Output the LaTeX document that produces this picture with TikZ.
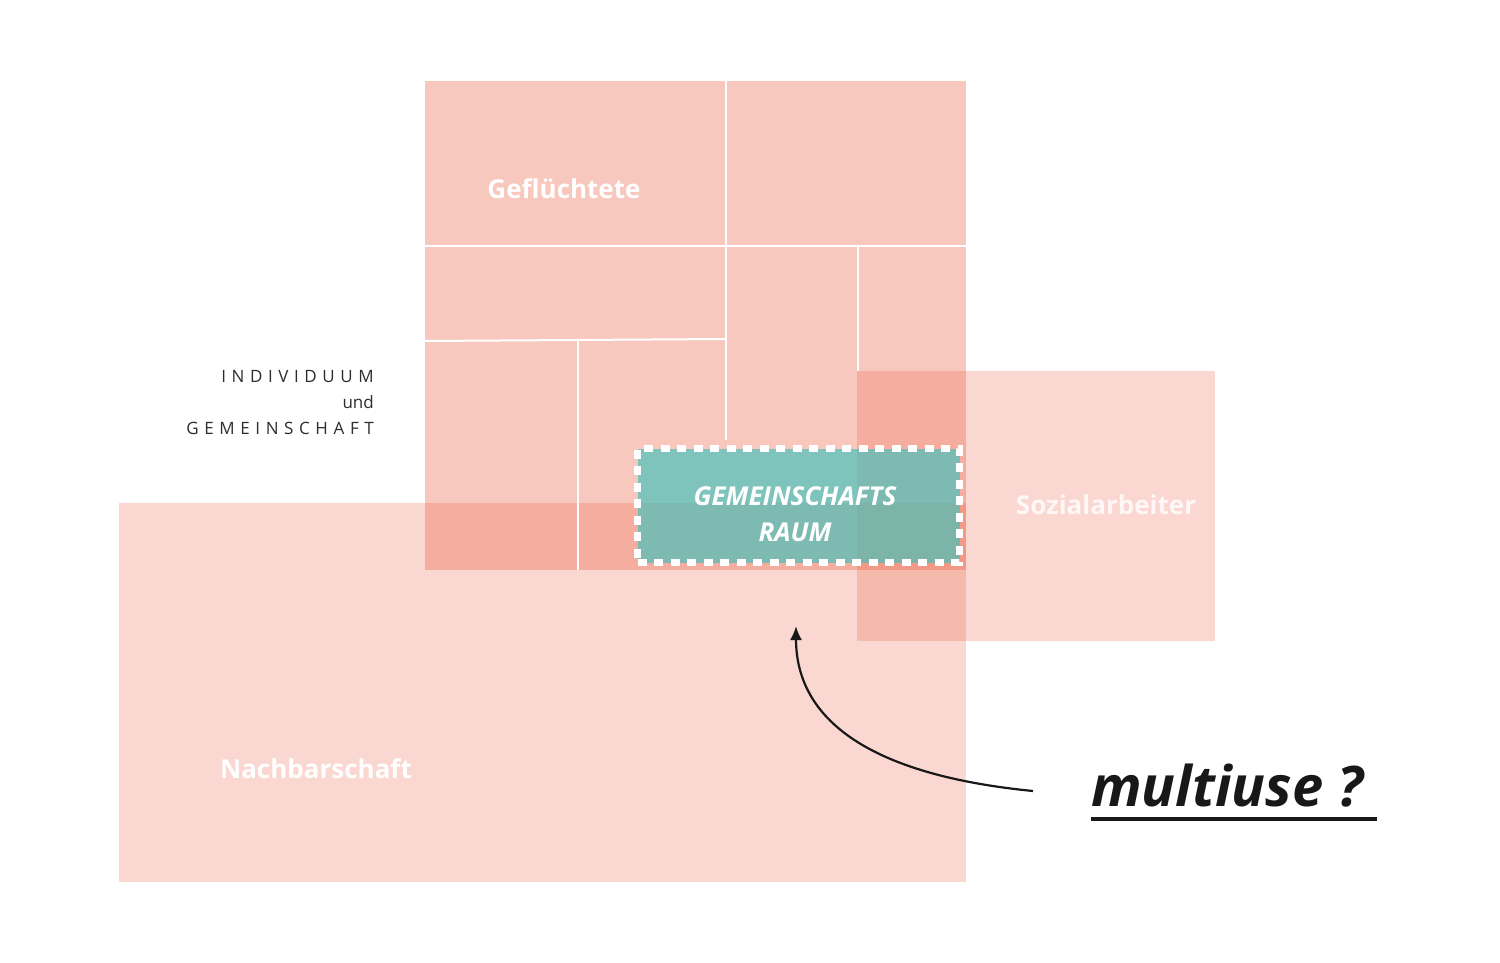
\documentclass[tikz,border=0pt]{standalone}
\usepackage{fontspec}
\setmainfont{Open Sans}
\newfontfamily\spacedfont[LetterSpace=33]{Open Sans}
\usetikzlibrary{arrows.meta}
\definecolor{salmon}{RGB}{234,87,57}
\definecolor{tealc}{RGB}{62,195,190}
\definecolor{txtgray}{RGB}{45,45,45}
\definecolor{inkc}{RGB}{24,24,24}
\begin{document}
\begin{tikzpicture}[x=1pt,y=-1pt,
  strongzone/.style={fill=salmon, fill opacity=0.333},
  softzone/.style={fill=salmon, fill opacity=0.232},
  gridline/.style={draw=white, line width=2pt},
  biglabel/.style={text=white, inner sep=0pt, font=\fontsize{26}{30}\selectfont\bfseries},
  raumbox/.style={fill=tealc, fill opacity=0.65, draw=white, line width=7pt,
    dash pattern=on 9pt off 7.5pt, minimum width=322pt, minimum height=114pt, inner sep=0pt},
  raumlabel/.style={text=white, inner sep=0pt, align=center,
    font=\fontsize{26}{36}\selectfont\bfseries\itshape},
  sidelabel/.style={text=txtgray, inner sep=0pt, align=right,
    font=\fontsize{17}{26}\selectfont\spacedfont},
  bigq/.style={text=inkc, inner sep=0pt, font=\fontsize{56}{60}\selectfont\bfseries\itshape},
  uline/.style={draw=inkc, line width=4.5pt},
  curvearrow/.style={draw=inkc, line width=2.2pt, -{Latex[length=14pt,width=12pt]}}]
\useasboundingbox (0,0) rectangle (1500,963);
\fill[white] (0,0) rectangle (1500,963);
% zones
\fill[softzone] (119,503) rectangle (966,882);
\fill[strongzone] (425,81) rectangle (966,570);
\fill[softzone] (857,371) rectangle (1215,641);
% grid lines of the upper block
\draw[gridline] (425,246) -- (966,246);
\draw[gridline] (726,81) -- (726,440);
\draw[gridline] (425,341) -- (726,339);
\draw[gridline] (578,340) -- (578,570);
\draw[gridline] (858,246) -- (858,371);
% labels
\node[biglabel] (gefl) at (564,189) {Geflüchtete};
\node[biglabel] (nach) at (316,769) {Nachbarschaft};
\node[biglabel, text opacity=0.8] (sozial) at (1106,505) {Sozialarbeiter};
\node[sidelabel, anchor=north east] (indiv) at (374,370) {INDIVIDUUM\\\fontspec{Open Sans}und\\GEMEINSCHAFT};
% community room
\node[raumbox] (raum) at (798.5,505.5) {};
\node[raumlabel] (raumtxt) at (795,514) {GEMEINSCHAFTS\\RAUM};
% question
\node[bigq, anchor=base west] (multi) at (1091,806) {multiuse ?};
\coordinate (ulend) at (1377,819);
\draw[uline] ([yshift=-13pt]multi.base west) -- (ulend);
\coordinate (astart) at (1033,791);
\coordinate (atip) at (796,626);
\draw[curvearrow] (astart) .. controls (870,775) and (796,720) .. (atip);
\end{tikzpicture}
\end{document}
